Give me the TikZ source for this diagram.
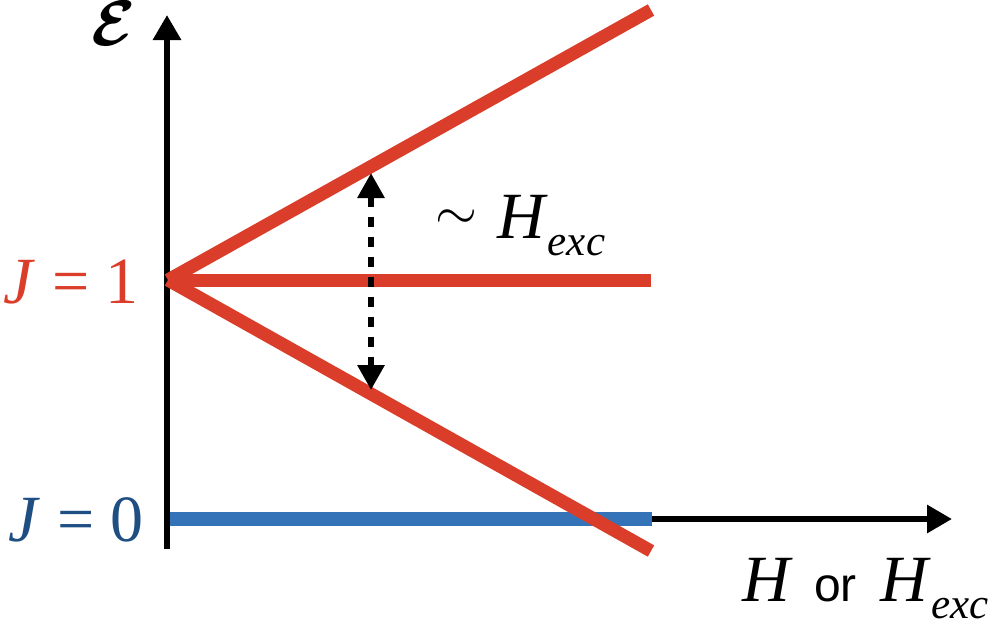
\documentclass[tikz,border=0pt]{standalone}
\usepackage{amsmath}
\usepackage{graphicx}
\usepackage{fontspec}
\usetikzlibrary{arrows.meta}
\newfontfamily\tms{Liberation Serif}
\newfontfamily\arialf{Liberation Sans}
\definecolor{lred}{HTML}{DA3D29}
\definecolor{lblue}{HTML}{3573B9}
\definecolor{tblue}{HTML}{1F4E82}
\newcommand{\Hx}{\textit{H}\raisebox{-17pt}{\fontsize{43}{43}\selectfont\itshape exc}}
\tikzset{
  lbl/.style={inner sep=0pt, font=\tms\fontsize{66}{66}\selectfont},
  redline/.style={draw=lred, line width=13pt, line cap=butt},
  blueline/.style={draw=lblue, line width=14pt, line cap=butt},
  axis/.style={draw=black, line width=6pt, -{Triangle[length=25pt,width=27pt]}},
  dasharrow/.style={draw=black, line width=6pt, dash pattern=on 10pt off 10pt, {Triangle[length=25pt,width=26pt]}-{Triangle[length=25pt,width=26pt]}}
}
\begin{document}
\begin{tikzpicture}[x=1pt,y=-1pt]
\useasboundingbox (0,0) rectangle (990,622);
% coordinates
\coordinate (ybot) at (167,549);
\coordinate (ytop) at (167,15);
\coordinate (o) at (168,280);
\coordinate (up) at (651,10);
\coordinate (mid) at (651,280);
\coordinate (lo) at (651,551);
\coordinate (b0) at (170,519);
\coordinate (b1) at (652,519);
\coordinate (xend) at (952,519);
\coordinate (dtop) at (371,173);
\coordinate (dbot) at (371,390);
% axes
\draw[axis] (ybot) -- (ytop);
\draw[axis] (b1) -- (xend);
% blue level
\draw[blueline] (b0) -- (b1);
% red levels
\draw[redline] (o) -- (up);
\draw[redline] (o) -- (mid);
\draw[redline] (o) -- (lo);
% splitting arrow
\draw[dasharrow] (dtop) -- (dbot);
% labels
\node[inner sep=0pt, anchor=base] (eps) at (114,45) {\scalebox{3.1}{\fontsize{20}{20}\selectfont$\boldsymbol{\mathcal{E}}$}};
\node[lbl, anchor=base east, text=lred] (j1) at (139,303) {\textit{J} = 1};
\node[lbl, anchor=base east, text=tblue] (j0) at (144,541) {\textit{J} = 0};
\node[inner sep=0pt] (tilde) at (456,220) {\scalebox{2.6}{\fontsize{20}{20}\selectfont$\sim$}};
\node[lbl, anchor=base west] (split) at (497,238) {\Hx};
\node[lbl, anchor=base west] (xh) at (742,601) {\textit{H}};
\node[inner sep=0pt, anchor=base west, font=\arialf\fontsize{48}{48}\selectfont] (xor) at (814,601) {or};
\node[lbl, anchor=base east] (xhx) at (989,601) {\Hx};
\end{tikzpicture}
\end{document}
